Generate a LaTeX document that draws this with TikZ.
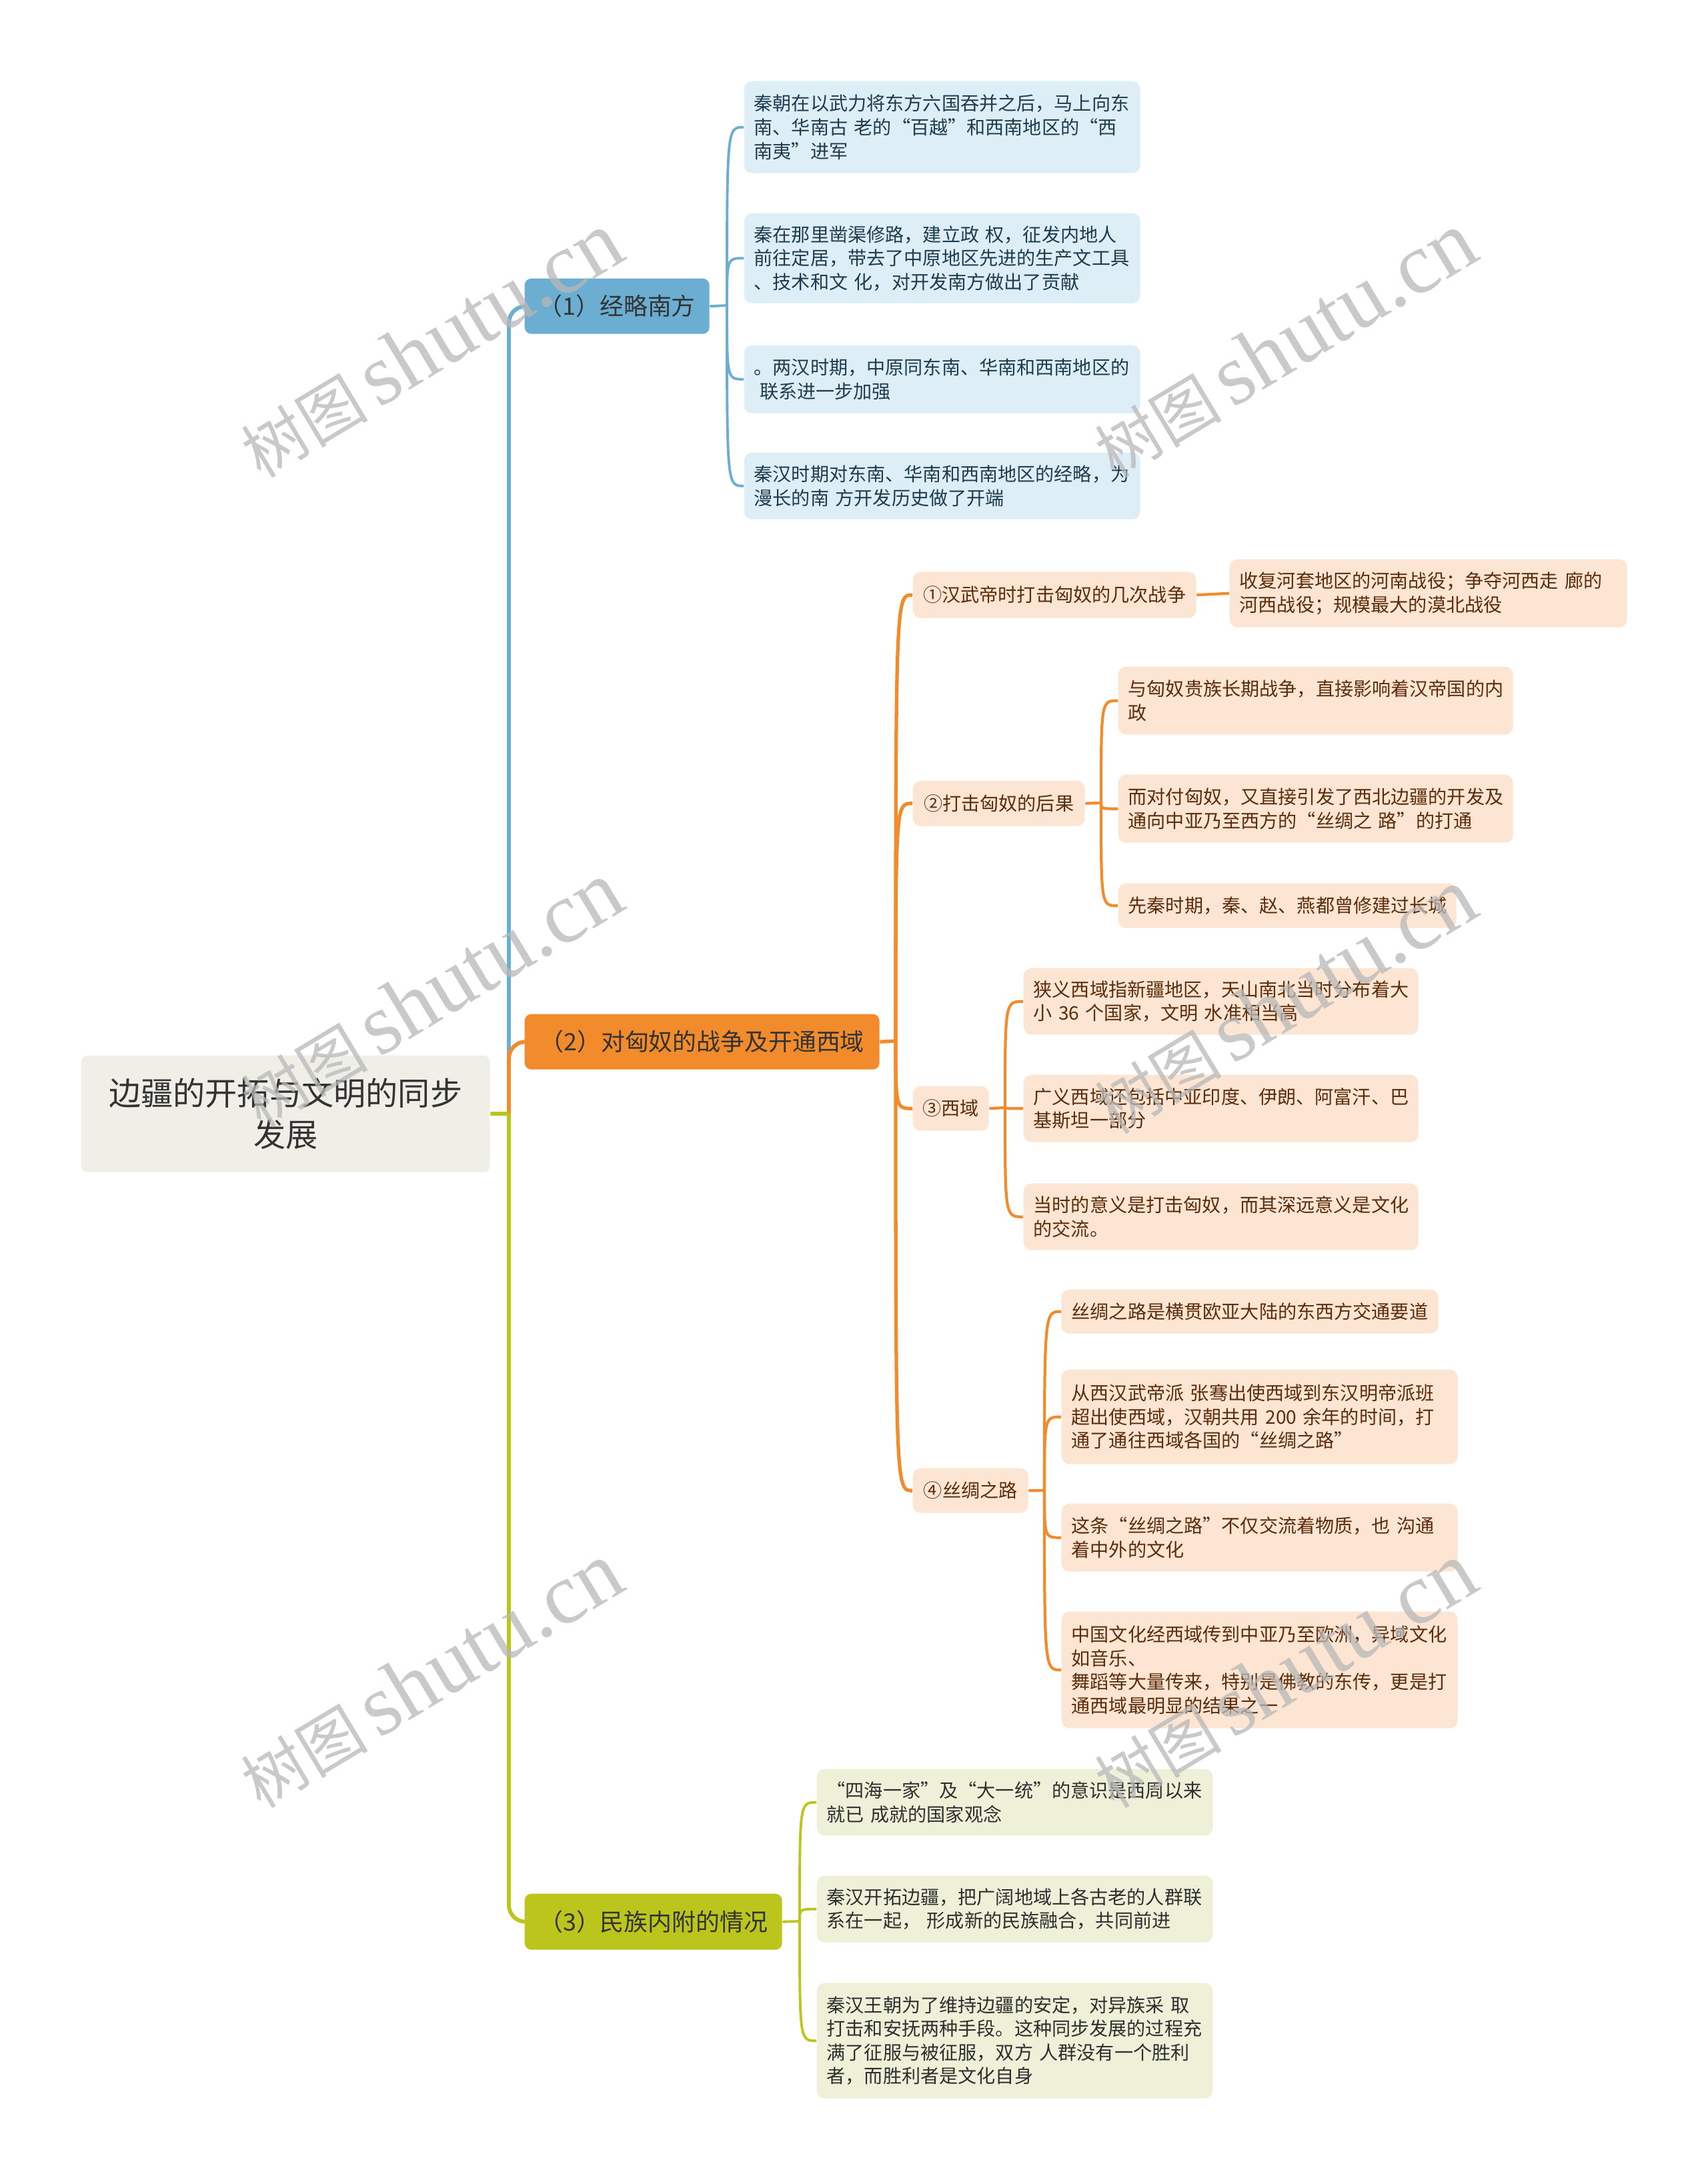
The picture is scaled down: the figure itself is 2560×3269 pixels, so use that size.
\documentclass[tikz,border=0pt]{standalone}
\usepackage{fontspec}
\setmainfont{Noto Sans CJK SC}
\newfontfamily\wmlat{Liberation Serif}
\newfontfamily\wmcjk{Noto Sans CJK SC}
\definecolor{blueC}{HTML}{6BAED1}
\definecolor{blueLeaf}{HTML}{DDEEF7}
\definecolor{blueText}{HTML}{1E3B4F}
\definecolor{orangeC}{HTML}{F28B2C}
\definecolor{orangeLeaf}{HTML}{FDE5D3}
\definecolor{orangeText}{HTML}{5C2C0B}
\definecolor{greenC}{HTML}{BBC51B}
\definecolor{greenLeaf}{HTML}{EEF1D8}
\definecolor{greenText}{HTML}{2E2E2E}
\definecolor{rootFill}{HTML}{EFEFE7}
\definecolor{rootText}{HTML}{333333}
\definecolor{wmGray}{HTML}{B8B8B8}
\newcommand\leaffont{\fontsize{8}{10.1}\selectfont}
\newcommand\mmbox[7]{%
  \node[#1, anchor=north west, minimum width=#5*0.01cm, minimum height=#6*0.01cm] (#2) at (#3,#4) {#7};}
\newcommand\mmleaf[7]{%
  \pgfmathsetmacro\mmtw{(#5-30)*0.01}%
  \node[#1, anchor=north west, minimum width=#5*0.01cm, minimum height=#6*0.01cm, text width=\mmtw cm, align=left] (#2) at (#3,#4) {#7};}
\newcommand\mmcurve[3]{\draw[#1] (#2) .. controls (#2 |- #3.west) .. (#3.west);}
\newcommand\wmtext{{\wmcjk\fontsize{27}{30}\selectfont 树图}\hspace{0.45em}{\wmlat\fontsize{37}{40}\selectfont shutu.cn}}
\tikzset{
  rootbox/.style={fill=rootFill, text=rootText, rounded corners=0.1cm, inner sep=0pt, align=center, font=\fontsize{13.7}{17.8}\selectfont},
  mainB/.style={fill=blueC, text=rootText, rounded corners=0.1cm, inner sep=0pt, font=\fontsize{10.2}{12}\selectfont},
  mainO/.style={fill=orangeC, text=rootText, rounded corners=0.1cm, inner sep=0pt, font=\fontsize{10.2}{12}\selectfont},
  mainG/.style={fill=greenC, text=rootText, rounded corners=0.1cm, inner sep=0pt, font=\fontsize{10.2}{12}\selectfont},
  subO/.style={fill=orangeLeaf, text=orangeText, rounded corners=0.12cm, inner sep=0pt, font=\leaffont},
  leafB/.style={fill=blueLeaf, text=blueText, rounded corners=0.12cm, inner sep=0pt, font=\leaffont},
  leafO/.style={fill=orangeLeaf, text=orangeText, rounded corners=0.12cm, inner sep=0pt, font=\leaffont},
  leafG/.style={fill=greenLeaf, text=greenText, rounded corners=0.12cm, inner sep=0pt, font=\leaffont},
  trunkB/.style={draw=blueC, line width=1.7pt, rounded corners=0.25cm},
  trunkO/.style={draw=orangeC, line width=1.7pt, rounded corners=0.25cm},
  trunkG/.style={draw=greenC, line width=1.7pt, rounded corners=0.25cm},
  lineB/.style={draw=blueC, line width=1.1pt},
  lineO/.style={draw=orangeC, line width=1.2pt},
  lineG/.style={draw=greenC, line width=1.1pt},
  wm/.style={text=wmGray, opacity=0.75, rotate=31, inner sep=0pt}
}
\begin{document}
\begin{tikzpicture}[x=0.01cm, y=-0.01cm]
\useasboundingbox (0,0) rectangle (2560,3269);
\fill[white] (0,0) rectangle (2560,3269);

% root and main branches
\mmbox{rootbox}{root}{121}{1582}{613}{175}{边疆的开拓与文明的同步\\发展}
\mmbox{mainB}{B1}{786}{417}{277}{83}{（1）经略南方}
\mmbox{mainO}{B2}{786}{1520}{532}{83}{（2）对匈奴的战争及开通西域}
\mmbox{mainG}{B3}{786}{2839}{386}{84}{（3）民族内附的情况}

% blue leaves
\mmleaf{leafB}{L1a}{1115}{121}{594}{138}{秦朝在以武力将东方六国吞并之后，马上向东\\南、华南古~老的“百越”和西南地区的“西\\南夷”进军}
\mmleaf{leafB}{L1b}{1115}{319}{594}{135}{秦在那里凿渠修路，建立政~权，征发内地人\\前往定居，带去了中原地区先进的生产文工具\\、技术和文~化，对开发南方做出了贡献}
\mmleaf{leafB}{L1c}{1115}{517}{594}{102}{。两汉时期，中原同东南、华南和西南地区的\\\hspace*{0.3em}联系进一步加强}
\mmleaf{leafB}{L1d}{1115}{678}{594}{100}{秦汉时期对东南、华南和西南地区的经略，为\\漫长的南~方开发历史做了开端}

% orange sub nodes
\mmbox{subO}{S1}{1368}{857}{425}{69}{①汉武帝时打击匈奴的几次战争}
\mmbox{subO}{S2}{1368}{1170}{258}{68}{②打击匈奴的后果}
\mmbox{subO}{S3}{1368}{1628}{114}{67}{③西域}
\mmbox{subO}{S4}{1368}{2201}{173}{67}{④丝绸之路}

% orange leaves
\mmleaf{leafO}{L21}{1843}{838}{596}{102}{收复河套地区的河南战役；争夺河西走~廊的\\河西战役；规模最大的漠北战役}
\mmleaf{leafO}{L22a}{1676}{999}{592}{102}{与匈奴贵族长期战争，直接影响着汉帝国的内\\政}
\mmleaf{leafO}{L22b}{1676}{1161}{592}{102}{而对付匈奴，又直接引发了西北边疆的开发及\\通向中亚乃至西方的“丝绸之~路”的打通}
\mmleaf{leafO}{L22c}{1676}{1324}{507}{67}{先秦时期，秦、赵、燕都曾修建过长城}
\mmleaf{leafO}{L23a}{1534}{1451}{592}{100}{狭义西域指新疆地区，天山南北当时分布着大\\小~36~个国家，文明~水准相当高}
\mmleaf{leafO}{L23b}{1534}{1611}{592}{101}{广义西域还包括中亚印度、伊朗、阿富汗、巴\\基斯坦一部分}
\mmleaf{leafO}{L23c}{1534}{1774}{592}{100}{当时的意义是打击匈奴，而其深远意义是文化\\的交流。}
\mmleaf{leafO}{L24a}{1591}{1933}{565}{66}{丝绸之路是横贯欧亚大陆的东西方交通要道}
\mmleaf{leafO}{L24b}{1591}{2053}{594}{142}{从西汉武帝派~张骞出使西域到东汉明帝派班\\超出使西域，汉朝共用~200~余年的时间，打\\通了通往西域各国的“丝绸之路”}
\mmleaf{leafO}{L24c}{1591}{2254}{594}{102}{这条“丝绸之路”不仅交流着物质，也~沟通\\着中外的文化}
\mmleaf{leafO}{L24d}{1591}{2416}{594}{175}{中国文化经西域传到中亚乃至欧洲，异域文化\\如音乐、\\舞蹈等大量传来，特别是佛教的东传，更是打\\通西域最明显的结果之一}

% green leaves
\mmleaf{leafG}{L3a}{1224}{2652}{594}{100}{“四海一家”及“大一统”的意识是西周以来\\就已~成就的国家观念}
\mmleaf{leafG}{L3b}{1224}{2812}{594}{100}{秦汉开拓边疆，把广阔地域上各古老的人群联\\系在一起，~形成新的民族融合，共同前进}
\mmleaf{leafG}{L3c}{1224}{2973}{594}{173}{秦汉王朝为了维持边疆的安定，对异族采~取\\打击和安抚两种手段。这种同步发展的过程充\\满了征服与被征服，双方~人群没有一个胜利\\者，而胜利者是文化自身}

% junction points
\coordinate (rj) at (763,1670);
\coordinate (jB) at (1090,458);
\coordinate (jO) at (1343,1561);
\coordinate (jS2) at (1651,1204);
\coordinate (jS3) at (1507,1661);
\coordinate (jS4) at (1566,2235);
\coordinate (jG) at (1199,2881);

% trunks from root
\draw[trunkB] (rj) |- (B1.west);
\draw[trunkO] (rj) |- (B2.west);
\draw[trunkG] (rj) |- (B3.west);
\draw[trunkG] (root.east) -- (rj);

% blue connectors
\draw[lineB] (B1.east) -- (jB);
\mmcurve{lineB}{jB}{L1a}
\mmcurve{lineB}{jB}{L1b}
\mmcurve{lineB}{jB}{L1c}
\mmcurve{lineB}{jB}{L1d}

% orange connectors
\draw[lineO, line width=1.5pt] (B2.east) -- (jO);
\mmcurve{lineO, line width=1.5pt}{jO}{S1}
\mmcurve{lineO, line width=1.5pt}{jO}{S2}
\mmcurve{lineO, line width=1.5pt}{jO}{S3}
\mmcurve{lineO, line width=1.5pt}{jO}{S4}
\draw[lineO] (S1.east) -- (L21.west);
\draw[lineO] (S2.east) -- (jS2);
\mmcurve{lineO}{jS2}{L22a}
\mmcurve{lineO}{jS2}{L22b}
\mmcurve{lineO}{jS2}{L22c}
\draw[lineO] (S3.east) -- (jS3);
\mmcurve{lineO}{jS3}{L23a}
\mmcurve{lineO}{jS3}{L23b}
\mmcurve{lineO}{jS3}{L23c}
\draw[lineO] (S4.east) -- (jS4);
\mmcurve{lineO}{jS4}{L24a}
\mmcurve{lineO}{jS4}{L24b}
\mmcurve{lineO}{jS4}{L24c}
\mmcurve{lineO}{jS4}{L24d}

% green connectors
\draw[lineG] (B3.east) -- (jG);
\mmcurve{lineG}{jG}{L3a}
\mmcurve{lineG}{jG}{L3b}
\mmcurve{lineG}{jG}{L3c}

% watermarks
\node[wm] (wm1) at (646,517) {\wmtext};
\node[wm] (wm2) at (1926,517) {\wmtext};
\node[wm] (wm3) at (646,1491) {\wmtext};
\node[wm] (wm4) at (1926,1501) {\wmtext};
\node[wm] (wm5) at (646,2512) {\wmtext};
\node[wm] (wm6) at (1926,2512) {\wmtext};
\end{tikzpicture}
\end{document}
